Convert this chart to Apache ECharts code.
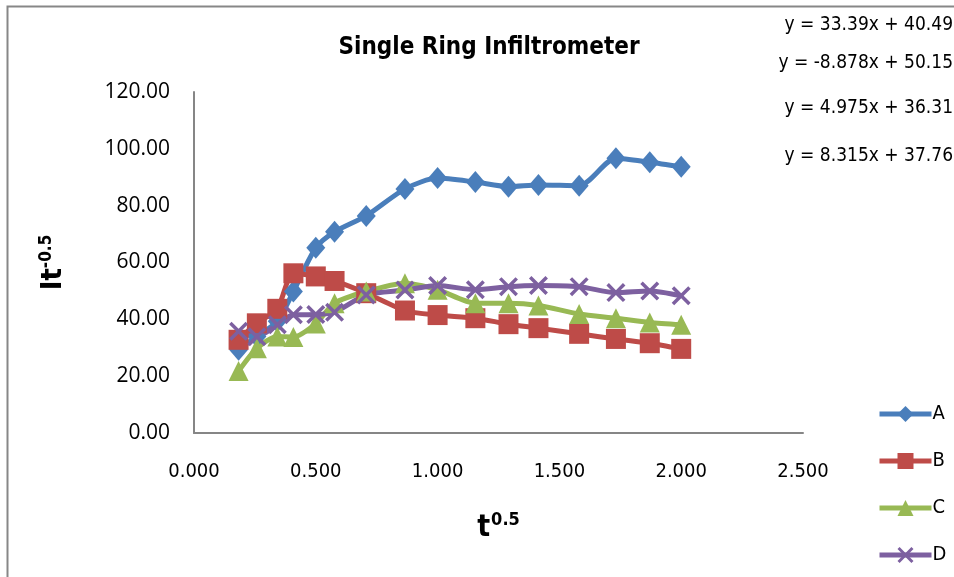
<!DOCTYPE html>
<html>
<head>
<meta charset="utf-8">
<script src="https://cdn.jsdelivr.net/npm/echarts@6/dist/echarts.min.js"></script>
<style>
html,body{margin:0;padding:0;background:#fff;}
#chart{width:954px;height:577px;}
</style>
</head>
<body>
<div id="chart"></div>
<script>
// t^0.5 values (x)
const xValues = [0.183, 0.258, 0.342, 0.408, 0.500, 0.577, 0.707, 0.866, 1.000, 1.155, 1.291, 1.414, 1.581, 1.732, 1.871, 2.000];
const seriesNames = ['A', 'B', 'C', 'D'];
const seriesA = [29.3, 34.0, 39.3, 49.8, 65.2, 70.8, 76.4, 85.9, 89.7, 88.3, 86.7, 87.3, 87.0, 96.7, 95.3, 93.7];
const seriesB = [32.8, 38.6, 43.7, 56.2, 55.1, 53.5, 49.2, 43.1, 41.5, 40.4, 38.3, 36.9, 34.9, 33.1, 31.6, 29.6];
const seriesC = [21.8, 29.8, 34.0, 33.8, 38.5, 45.7, 49.8, 52.7, 50.4, 45.7, 45.7, 44.9, 41.9, 40.4, 38.9, 38.1];
const seriesD = [35.8, 33.9, 38.1, 41.6, 41.7, 42.5, 48.6, 50.3, 51.9, 50.4, 51.5, 51.9, 51.5, 49.4, 50.0, 48.3];
const equations = ['y = 33.39x + 40.49', 'y = -8.878x + 50.15', 'y = 4.975x + 36.31', 'y = 8.315x + 37.76'];

const colors = ['#4A7EBB', '#BE4B48', '#98B954', '#7D60A0'];
const narrow = '"Liberation Sans Narrow", "DejaVu Sans Condensed", "Roboto", sans-serif';
const regular = '"Open Sans", "Noto Sans", sans-serif';
const crossPath = 'path://M0,1.3 L1.3,0 L5,3.7 L8.7,0 L10,1.3 L6.3,5 L10,8.7 L8.7,10 L5,6.3 L1.3,10 L0,8.7 L3.7,5 Z';

const allData = [seriesA, seriesB, seriesC, seriesD];
const symbols = ['diamond', 'rect', 'triangle', crossPath];
const symbolSizes = [[19, 22], 20, 20, 19];

function pairs(ys) { return xValues.map((x, i) => [x, ys[i]]); }

const chart = echarts.init(document.getElementById('chart'));
const eqY = [22, 60, 105, 153];
chart.setOption({
  animation: false,
  backgroundColor: '#fff',
  title: {
    text: 'Single Ring Infiltrometer',
    left: 484, top: 31, textAlign: 'center',
    textStyle: {fontFamily: narrow, fontWeight: 'bold', fontSize: 24, color: '#000'}
  },
  grid: {left: 194, right: 151, top: 92, bottom: 144},
  legend: {
    orient: 'vertical', left: 872, top: 399,
    itemWidth: 52, itemHeight: 20, itemGap: 27,
    data: seriesNames,
    lineStyle: {width: 5},
    textStyle: {fontFamily: narrow, fontSize: 20, color: '#000', padding: [0,0,0,-4]}
  },
  xAxis: {
    type: 'value', min: 0, max: 2.5, interval: 0.5,
    axisLine: {show: true, lineStyle: {color: '#868686', width: 2}},
    axisTick: {show: false},
    splitLine: {show: false},
    axisLabel: {margin: 29, formatter: v => v.toFixed(3), fontFamily: narrow, fontSize: 20, color: '#000'},
    name: '{b|t}{s|0.5}', nameLocation: 'middle', nameGap: 78,
    nameTextStyle: {rich: {
      b: {fontFamily: narrow, fontWeight: 'bold', fontSize: 30, color: '#000', verticalAlign: 'bottom', lineHeight: 32},
      s: {fontFamily: narrow, fontWeight: 'bold', fontSize: 18, color: '#000', verticalAlign: 'top', lineHeight: 32, padding: [0,0,0,1]}
    }}
  },
  yAxis: {
    type: 'value', min: 0, max: 120, interval: 20,
    axisLine: {show: true, lineStyle: {color: '#868686', width: 2}},
    axisTick: {show: false},
    splitLine: {show: false},
    axisLabel: {margin: 24, formatter: v => v.toFixed(2), fontFamily: regular, fontSize: 21, color: '#000'},
    name: '{b|It}{s|-0.5}', nameLocation: 'middle', nameGap: 126, nameRotate: 90,
    nameTextStyle: {rich: {
      b: {fontFamily: narrow, fontWeight: 'bold', fontSize: 29, color: '#000', verticalAlign: 'bottom', lineHeight: 30},
      s: {fontFamily: narrow, fontWeight: 'bold', fontSize: 17, color: '#000', verticalAlign: 'top', lineHeight: 30}
    }}
  },
  graphic: [
    {type: 'rect', silent: true, z: -1, shape: {x: 7.5, y: 6.5, width: 980, height: 620}, style: {fill: 'none', stroke: '#878787', lineWidth: 2}},
  ].concat(equations.map((t, i) => ({
    type: 'text', right: 1, top: eqY[i] - 6,
    style: {text: t, fontFamily: narrow, fontSize: 19, fill: '#000', textAlign: 'right'}
  }))),
  series: allData.map((d, i) => ({
    name: seriesNames[i], type: 'line', data: pairs(d), smooth: 0.25,
    symbol: symbols[i], symbolSize: symbolSizes[i],
    lineStyle: {color: colors[i], width: 5},
    itemStyle: {color: colors[i]},
    emphasis: {disabled: true}
  }))
});
</script>
</body>
</html>
